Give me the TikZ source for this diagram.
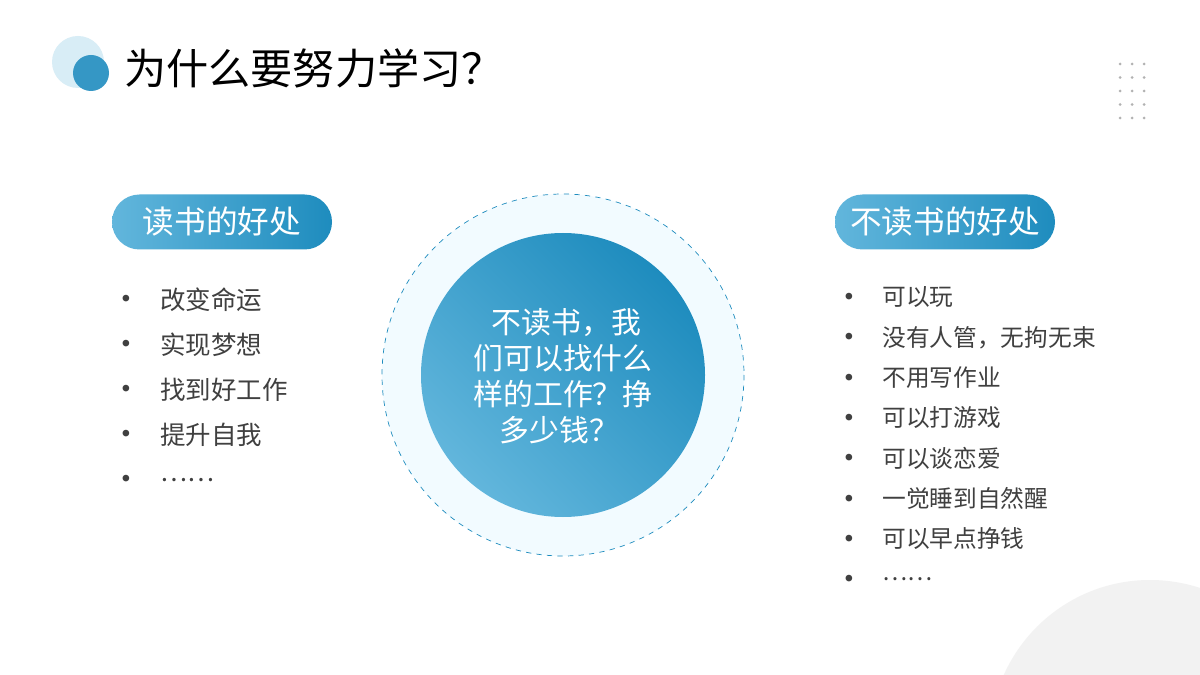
\documentclass[tikz,border=0pt]{standalone}
\usepackage{fontspec}
\newfontfamily\cjk{Noto Sans CJK SC}
\usetikzlibrary{positioning}
\definecolor{lblue}{HTML}{62B6DC}
\definecolor{dblue}{HTML}{1E8CBE}
\definecolor{txt}{HTML}{404040}
\tikzset{
  pill/.style={rounded corners=27.5\pgfxx, left color=lblue, right color=dblue,
    text=white, font=\cjk\fontsize{18}{22}\selectfont, minimum width=220\pgfxx,
    minimum height=55\pgfxx},
  item/.style={anchor=west, text=txt, font=\cjk\fontsize{14.5}{17}\selectfont, inner sep=0pt},
  dot/.style={anchor=center, text=txt, font=\fontsize{14}{16}\selectfont, inner sep=0pt}
}
\newlength\pgfxx \setlength\pgfxx{0.02cm}
\begin{document}
\begin{tikzpicture}[x=0.02cm,y=-0.02cm]
  \useasboundingbox (0,0) rectangle (1200,675);
  \fill[white] (0,0) rectangle (1200,675);
  % corner shape
  \begin{scope}
    \clip (0,0) rectangle (1200,675);
    \fill[gray!10] (1150,740) circle (160);
  \end{scope}
  % title
  \fill[lblue!25] (78,62) circle (26);
  \fill[dblue!90] (91,73) circle (18);
  \node[anchor=west, font=\cjk\fontsize{24}{28}\selectfont, text=black] (title) at (118,68) {为什么要努力学习？};
  \foreach \i in {0,1,2}
    \foreach \j in {0,...,4}
      \fill[gray!60] (1120+12*\i,64+13.5*\j) circle (1.5);
  % centre
  \fill[blue!30!cyan!5] (563,375) circle (181);
  \draw[dblue, dashed, thin] (563,375) circle (181);
  \shade[left color=lblue, right color=dblue, shading angle=135] (563,375) circle (142);
  \node[text=white, align=center, font=\cjk\fontsize{17}{20.5}\selectfont] (centre) at (563,376)
    {\ 不读书，我\\们可以找什么\\样的工作？挣\\多少钱？\ \ };
  % left
  \node[pill] (goods) at (222,222) {读书的好处};
  \foreach \t [count=\k from 0] in {改变命运,实现梦想,找到好工作,提升自我,……} {
    \node[dot] (ld\k) at (126,300+45*\k) {•};
    \node[item] (lt\k) at (160,300+45*\k) {\t};
  }
  % right
  \node[pill] (bads) at (945,222) {不读书的好处};
  \foreach \t [count=\k from 0] in {可以玩,没有人管，无拘无束,不用写作业,可以打游戏,可以谈恋爱,一觉睡到自然醒,可以早点挣钱,……} {
    \node[dot] (rd\k) at (849,298+40.3*\k) {•};
    \node[item, font=\cjk\fontsize{13.5}{16}\selectfont] (rt\k) at (882,297+40.3*\k) {\t};
  }
\end{tikzpicture}
\end{document}
